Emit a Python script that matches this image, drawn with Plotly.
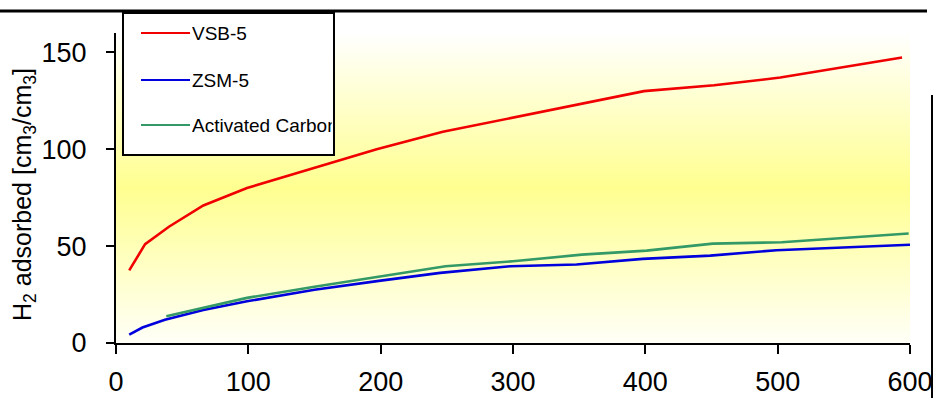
import plotly.graph_objects as go

# Pressure points and hydrogen uptake per material
vsb5_p = [10, 22, 40, 66, 99, 148, 197, 247, 298, 349, 399, 452, 502, 594]
vsb5_h2 = [37.5, 51, 60, 71, 80, 90, 100, 109, 116, 123, 130, 133, 137, 147.4]

zsm5_p = [10, 20, 37, 66, 99, 150, 200, 245, 298, 348, 398, 449, 499, 600]
zsm5_h2 = [4.3, 8, 12, 17, 21.5, 27.5, 32.2, 36.2, 39.6, 40.5, 43.4, 45.1, 47.9, 50.7]

carbon_p = [38, 66, 99, 150, 200, 249, 300, 352, 401, 451, 503, 599]
carbon_h2 = [13.8, 18.1, 23.3, 29, 34.3, 39.6, 42.2, 45.6, 47.7, 51.3, 52, 56.5]

series_names = ["VSB-5", "ZSM-5", "Activated Carbon"]
series_colors = ["#F00000", "#0000DD", "#339966"]
series_x = [vsb5_p, zsm5_p, carbon_p]
series_y = [vsb5_h2, zsm5_h2, carbon_h2]

x_ticks = [0, 100, 200, 300, 400, 500, 600]
y_ticks = [0, 50, 100, 150]

W, H = 933, 398
L, R, T, B = 116, 23, 33, 55
PW, PH = W - L - R, H - T - B
FONT = "Arial, 'Liberation Sans', sans-serif"


def px(xpix):
    return (xpix - L) / PW


def py(ypix):
    return (H - B - ypix) / PH


fig = go.Figure()

# Graded plot-area backdrop: white -> pale yellow -> white
fig.add_trace(go.Scatter(
    x=[0, 600, 600, 0, 0], y=[0, 0, 160, 160, 0],
    mode="lines", line=dict(width=0), fill="toself",
    fillgradient=dict(type="vertical", start=0, stop=160,
                      colorscale=[[0, "#FFFFF8"], [0.5, "#FFFF90"], [1, "#FFFFFF"]]),
    hoverinfo="skip", showlegend=False,
))

for name, color, xs, ys in zip(series_names, series_colors, series_x, series_y):
    fig.add_trace(go.Scatter(x=xs, y=ys, mode="lines", name=name,
                             line=dict(color=color, width=2.6), showlegend=False))

shapes = []
annotations = []

# Frame lines around the figure
shapes.append(dict(type="line", xref="paper", yref="paper",
                   x0=px(0), x1=px(927), y0=py(11), y1=py(11),
                   line=dict(color="black", width=3)))
shapes.append(dict(type="line", xref="paper", yref="paper",
                   x0=px(932), x1=px(932), y0=py(95), y1=py(400),
                   line=dict(color="black", width=2)))

# Legend box
shapes.append(dict(type="rect", xref="paper", yref="paper",
                   x0=px(123), x1=px(334), y0=py(13), y1=py(155),
                   fillcolor="white", line=dict(color="black", width=2)))
legend_rows = [33, 80, 125]
for name, color, row in zip(series_names, series_colors, legend_rows):
    shapes.append(dict(type="line", xref="paper", yref="paper",
                       x0=px(141), x1=px(190), y0=py(row), y1=py(row),
                       line=dict(color=color, width=2.2)))
    annotations.append(dict(text=name, xref="paper", yref="paper",
                            x=px(190), y=py(row), xanchor="left", yanchor="middle",
                            width=140, align="left", showarrow=False,
                            font=dict(family=FONT, size=19, color="black")))

# Vertical axis title
annotations.append(dict(
    text="H<sub>2</sub> adsorbed [cm<sub>3</sub>/cm<sub>3</sub>]",
    xref="paper", yref="paper", x=px(24), y=py(195),
    xanchor="center", yanchor="middle", textangle=-90, showarrow=False,
    font=dict(family=FONT, size=25, color="black")))

fig.update_layout(
    width=W, height=H,
    margin=dict(l=L, r=R, t=T, b=B, pad=0, autoexpand=False),
    paper_bgcolor="white", plot_bgcolor="white",
    showlegend=False,
    shapes=shapes, annotations=annotations,
    xaxis=dict(range=[0, 600], tickvals=x_ticks, showgrid=False, zeroline=False,
               automargin=False,
               showline=True, linecolor="black", linewidth=2,
               ticks="outside", ticklen=9, tickwidth=2, tickcolor="black",
               ticklabelstandoff=5,
               tickfont=dict(family=FONT, size=27, color="black")),
    yaxis=dict(range=[0, 160], tickvals=y_ticks, showgrid=False, zeroline=False,
               automargin=False,
               showline=True, linecolor="black", linewidth=2,
               ticks="outside", ticklen=8, tickwidth=2, tickcolor="black",
               ticklabelstandoff=14,
               tickfont=dict(family=FONT, size=27, color="black")),
)

fig.write_html("out.html")
